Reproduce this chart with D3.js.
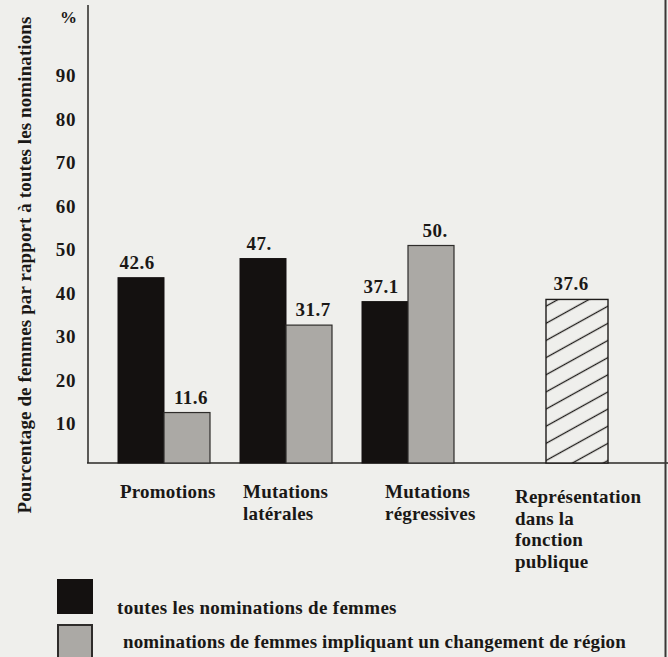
<!DOCTYPE html>
<html>
<head>
<meta charset="utf-8">
<script src="https://cdn.jsdelivr.net/npm/d3@7"></script>
<style>
  html, body { margin: 0; padding: 0; background: #efefec; }
  svg { display: block; }
  text { font-family: "Liberation Serif", "Times New Roman", serif; font-weight: bold; fill: #1a1816; }
</style>
</head>
<body>
<svg id="chart" width="668" height="657"></svg>
<script>
// ---- data ----
const categories = ["Promotions", "Mutations latérales", "Mutations régressives", "Représentation dans la fonction publique"];
const categoryLines = [["Promotions"], ["Mutations", "latérales"], ["Mutations", "régressives"], ["Représentation", "dans la", "fonction", "publique"]];
const toutesValues = [42.6, 47.0, 37.1, null];
const regionValues = [11.6, 31.7, 50.0, null];
const representationValues = [null, null, null, 37.6];
const toutesLabels = ["42.6", "47.", "37.1", null];
const regionLabels = ["11.6", "31.7", "50.", null];
const representationLabels = [null, null, null, "37.6"];
const yTicks = [10, 20, 30, 40, 50, 60, 70, 80, 90];
const yUnit = "%";
const yTitle = "Pourcentage de femmes par rapport à toutes les nominations";
const seriesNames = ["toutes les nominations de femmes", "nominations de femmes impliquant un changement de région"];

// ---- layout ----
const W = 668, H = 657;
const svg = d3.select("#chart");
const BG = "#efefec", BLACK = "#141110", GRAY = "#aba9a5", INK = "#1e1c1a";
const axisX = 88, baseY = 463;

const y = d3.scaleLinear().domain([0, 100]).range([baseY, 28]);
const x = d3.scaleBand().domain(categories).range([118, 118 + 3 * 122 + 92]).paddingInner(30 / 122).paddingOuter(0);
const series = ["toutes", "region"];
const x1 = d3.scaleBand().domain(series).range([0, x.bandwidth()]).padding(0);

// hatch pattern
const defs = svg.append("defs");
const pat = defs.append("pattern").attr("id", "hatch").attr("patternUnits", "userSpaceOnUse")
  .attr("width", 20).attr("height", 15).attr("patternTransform", "rotate(-29)");
pat.append("rect").attr("width", 20).attr("height", 15).attr("fill", BG);
pat.append("line").attr("x1", 0).attr("x2", 20).attr("y1", 7.5).attr("y2", 7.5).attr("stroke", INK).attr("stroke-width", 1.3);

// background
svg.append("rect").attr("width", W).attr("height", H).attr("fill", BG);

// y axis (labels only)
const yAxis = d3.axisLeft(y).tickValues(yTicks).tickSize(0).tickPadding(12).tickFormat(d3.format("d"));
const gy = svg.append("g").attr("transform", `translate(${axisX},0)`).call(yAxis);
gy.select(".domain").remove();
gy.selectAll("text").attr("font-size", 19).attr("y", 4).attr("letter-spacing", 0.6)
  .style("font-family", '"Liberation Serif", "Times New Roman", serif').style("font-weight", "bold").attr("fill", "#1a1816");
svg.append("text").attr("x", axisX - 11).attr("y", 23).attr("text-anchor", "end").attr("font-size", 17).text(yUnit);

// axis lines
svg.append("line").attr("x1", axisX).attr("x2", axisX).attr("y1", 5).attr("y2", baseY).attr("stroke", "#2a2826").attr("stroke-width", 1.5);
svg.append("line").attr("x1", axisX - 1).attr("x2", W).attr("y1", baseY).attr("y2", baseY).attr("stroke", "#2a2826").attr("stroke-width", 1.6);
// right edge of scanned page
svg.append("line").attr("x1", 665.5).attr("x2", 665.5).attr("y1", 0).attr("y2", H).attr("stroke", "#3a3836").attr("stroke-width", 2);

// y title
svg.append("text").attr("transform", `translate(31,265) rotate(-90)`).attr("text-anchor", "middle")
  .attr("font-size", 19).attr("letter-spacing", 0.1).text(yTitle);

// bars
const rows = categories.map((c, i) => ({ c, i }));
const g = svg.append("g");
rows.forEach(({ c, i }) => {
  if (toutesValues[i] != null) {
    g.append("rect").attr("x", x(c) + x1("toutes")).attr("width", x1.bandwidth())
      .attr("y", y(toutesValues[i])).attr("height", y(0) - y(toutesValues[i]))
      .attr("fill", BLACK).attr("stroke", BLACK).attr("stroke-width", 1);
    g.append("text").attr("x", x(c) + x1("toutes") + x1.bandwidth() / 2 - 4).attr("y", y(toutesValues[i]) - 9)
      .attr("text-anchor", "middle").attr("font-size", 19).attr("letter-spacing", 0.5).text(toutesLabels[i]);
  }
  if (regionValues[i] != null) {
    g.append("rect").attr("x", x(c) + x1("region")).attr("width", x1.bandwidth())
      .attr("y", y(regionValues[i])).attr("height", y(0) - y(regionValues[i]))
      .attr("fill", GRAY).attr("stroke", "#2e2c2a").attr("stroke-width", 1.2);
    g.append("text").attr("x", x(c) + x1("region") + x1.bandwidth() / 2 + 4).attr("y", y(regionValues[i]) - 9)
      .attr("text-anchor", "middle").attr("font-size", 19).attr("letter-spacing", 0.5).text(regionLabels[i]);
  }
  if (representationValues[i] != null) {
    const bw = 62, cx = x(c) + x.bandwidth() + 1;
    g.append("rect").attr("x", cx - bw / 2).attr("width", bw)
      .attr("y", y(representationValues[i])).attr("height", y(0) - y(representationValues[i]))
      .attr("fill", "url(#hatch)").attr("stroke", INK).attr("stroke-width", 1.4);
    g.append("text").attr("x", cx - 6).attr("y", y(representationValues[i]) - 9)
      .attr("text-anchor", "middle").attr("font-size", 19).attr("letter-spacing", 0.5).text(representationLabels[i]);
  }
});

// category labels (left-aligned blocks)
const labelDx = [2, 3, 23, 31];
const labelDy = [0, 0, 0, 5];
rows.forEach(({ c, i }) => {
  const t = svg.append("text").attr("font-size", 19).attr("letter-spacing", 0.2);
  categoryLines[i].forEach((line, k) => {
    t.append("tspan").attr("x", x(c) + labelDx[i]).attr("y", 498 + labelDy[i] + k * 21.5).text(line);
  });
});

// legend
const legend = svg.append("g");
legend.append("rect").attr("x", 57).attr("y", 579).attr("width", 36).attr("height", 35).attr("fill", BLACK);
legend.append("rect").attr("x", 58).attr("y", 625).attr("width", 34).attr("height", 40)
  .attr("fill", GRAY).attr("stroke", "#2e2c2a").attr("stroke-width", 2);
legend.append("text").attr("x", 117).attr("y", 614).attr("font-size", 19).attr("letter-spacing", 0.3).text(seriesNames[0]);
legend.append("text").attr("x", 123).attr("y", 648).attr("font-size", 19).attr("letter-spacing", 0.15).text(seriesNames[1]);
</script>
</body>
</html>
